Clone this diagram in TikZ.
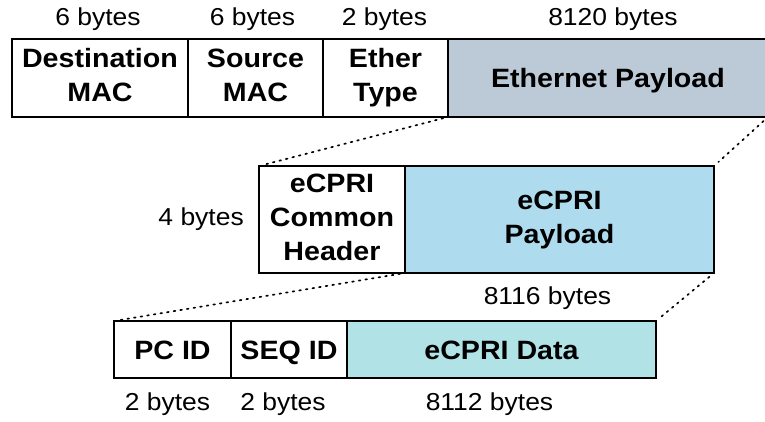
\documentclass[tikz,border=0pt]{standalone}
\usepackage{fontspec}
\setmainfont{Liberation Sans}[FakeStretch=1.08]
\usetikzlibrary{positioning}
\definecolor{eth-payload}{HTML}{BBCAD6}
\definecolor{ecpri-payload}{HTML}{AEDCEE}
\definecolor{ecpri-data}{HTML}{B0E2E6}

\tikzset{
  field/.style={draw, rectangle, line width=2.6pt, inner sep=0pt, outer sep=0pt,
    align=center, font=\fontsize{26.5}{34}\selectfont\bfseries,
    execute at begin node=\rule{0pt}{24.5pt},
    execute at end node=\rule[-5.5pt]{0pt}{0pt}},
  bytes/.style={inner sep=0pt, font=\fontsize{24.5}{28}\selectfont},
  zoomline/.style={line width=1.7pt, dash pattern=on 1.7pt off 5pt, line cap=round}
}

\begin{document}
\begin{tikzpicture}[x=1pt,y=-1pt]
    \useasboundingbox (0,0) rectangle (765,421);
    % Ethernet frame
    \node[field, minimum width=176pt, minimum height=78pt, anchor=north west] (dst) at (12,39) {Destination\\MAC};
    \node[field, minimum width=135pt, minimum height=78pt, right=0pt of dst] (src) {Source\\MAC};
    \node[field, minimum width=125pt, minimum height=78pt, right=0pt of src] (type) {Ether\\Type};
    \node[field, fill=eth-payload, minimum width=320pt, minimum height=78pt, right=0pt of type] (ethpay) {Ethernet Payload};
    \node[bytes, above=8pt of dst, xshift=-2pt] (dstsz) {6 bytes};
    \node[bytes, above=8pt of src, xshift=-3pt] (srcsz) {6 bytes};
    \node[bytes, above=8pt of type, xshift=-1pt] (typesz) {2 bytes};
    \node[bytes, above=8pt of ethpay, xshift=5pt] (ethpaysz) {8120 bytes};

    % eCPRI frame
    \node[field, minimum width=146pt, minimum height=107pt, anchor=north west] (hdr) at (259,166) {eCPRI\\Common\\Header};
    \node[field, fill=ecpri-payload, minimum width=309pt, minimum height=107pt, right=0pt of hdr] (ecpripay) {eCPRI\\Payload};
    \node[bytes, left=15pt of hdr] (hdrsz) {4 bytes};
    \node[bytes, below=14pt of ecpripay, xshift=-12pt] (ecpripaysz) {8116 bytes};

    % eCPRI payload fields
    \node[field, minimum width=117pt, minimum height=57pt, anchor=north west] (pc) at (114,321) {PC ID};
    \node[field, minimum width=116pt, minimum height=57pt, right=0pt of pc] (seq) {SEQ ID};
    \node[field, fill=ecpri-data, minimum width=309pt, minimum height=57pt, right=0pt of seq] (data) {eCPRI Data};
    \node[bytes, below=15pt of pc, xshift=-5pt] (pcsz) {2 bytes};
    \node[bytes, below=15pt of seq, xshift=-6pt] (seqsz) {2 bytes};
    \node[bytes, below=15pt of data, xshift=-12pt] (datasz) {8112 bytes};

    % zoom lines
    \draw[zoomline, shorten <=5pt, shorten >=6pt] (ethpay.south west) -- (hdr.north west);
    \draw[zoomline, shorten <=6pt, shorten >=6pt] (ethpay.south east) -- (ecpripay.north east);
    \draw[zoomline, shorten <=5pt, shorten >=6pt] (hdr.south east) -- (pc.north west);
    \draw[zoomline, shorten <=6pt, shorten >=6pt] (ecpripay.south east) -- (data.north east);
\end{tikzpicture}
\end{document}
